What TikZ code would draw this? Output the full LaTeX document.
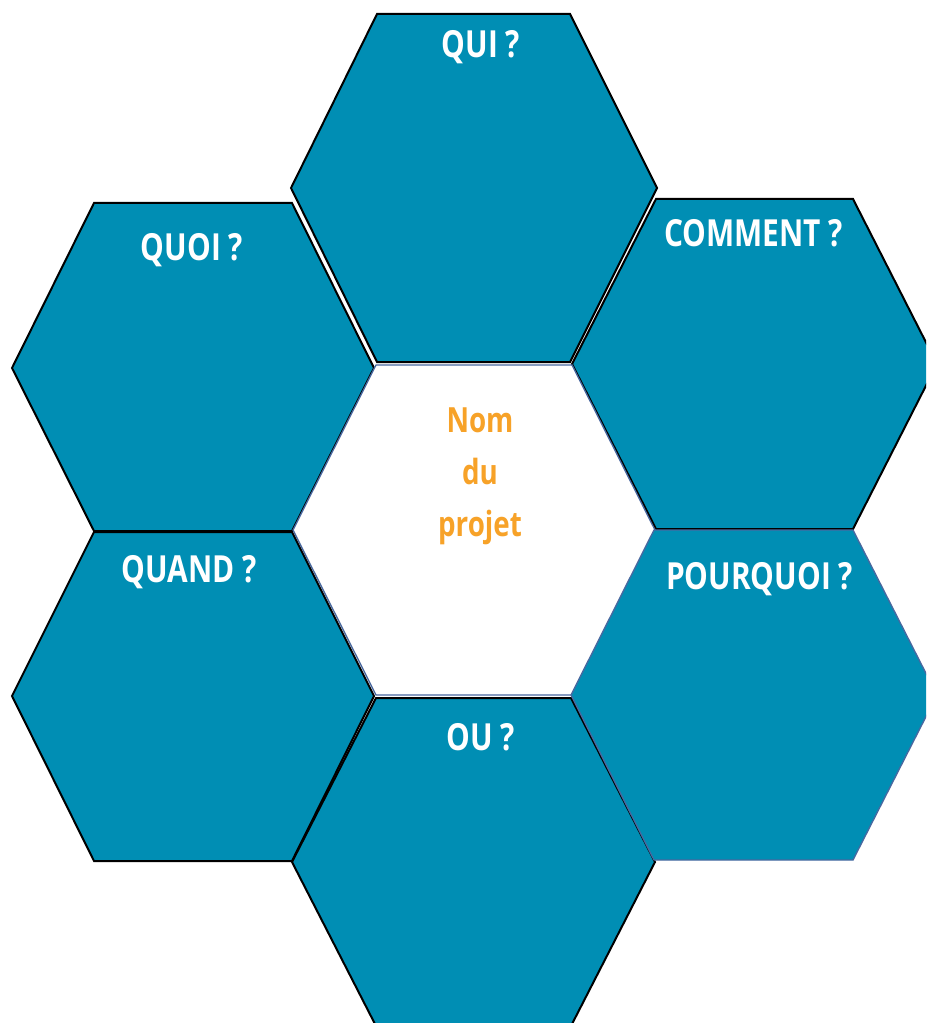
\documentclass[tikz,border=0pt]{standalone}
\usepackage{fontspec}
\setmainfont[FakeStretch=0.8]{Open Sans}
\usepackage{tikz}

\definecolor{hexfill}{RGB}{0,142,180}
\definecolor{hexedge}{RGB}{72,104,160}
\definecolor{projorange}{RGB}{247,162,40}

\begin{document}
\begin{tikzpicture}[x=0.75pt,y=0.75pt,yscale=-1,xscale=1,
  hexa/.style={fill=hexfill,draw=black,line width=1.5,line join=miter},
  hexb/.style={fill=hexfill,draw=hexedge,line width=1,line join=miter},
  hexmid/.style={fill=white,draw=hexedge,line width=1,line join=miter},
  qlabel/.style={anchor=base,inner sep=0.75pt,text=white,font=\fontsize{28}{30}\selectfont\bfseries},
  plabel/.style={anchor=base,inner sep=0.75pt,text=projorange,align=center,font=\fontsize{26}{39}\selectfont\bfseries}]
\useasboundingbox (0,0) rectangle (926,1023);
\clip (0,0) rectangle (926,1023);

%Shape: Hexagon [QUOI]
\draw [hexa] (12,368) -- (94,203) -- (292,203) -- (374,368) -- (292,531) -- (94,531) -- cycle ;
%Shape: Hexagon [QUI]
\draw [hexa] (291,188) -- (377,14) -- (570,14) -- (657,188) -- (570,362) -- (377,362) -- cycle ;
%Shape: Hexagon [COMMENT]
\draw [hexa] (572,364) -- (656,199) -- (853,199) -- (937,364) -- (853,529) -- (656,529) -- cycle ;
%Shape: Hexagon [centre]
\draw [hexmid] (293,530) -- (376,365) -- (572,365) -- (655,530) -- (572,695) -- (376,695) -- cycle ;
%Shape: Hexagon [QUAND]
\draw [hexa] (12,696) -- (94,532) -- (292,532) -- (374,696) -- (292,861) -- (94,861) -- cycle ;
%Shape: Hexagon [OU]
\draw [hexa] (292,862) -- (376,698) -- (571,698) -- (655,862) -- (571,1026) -- (376,1026) -- cycle ;
%Shape: Hexagon [POURQUOI]
\draw [hexb] (571,695) -- (654,530) -- (853,530) -- (937,695) -- (853,860) -- (654,860) -- cycle ;

% Text Node
\draw (481,58) node [qlabel] (qui) {QUI ?};
% Text Node
\draw (753.5,247) node [qlabel] (comment) {COMMENT ?};
% Text Node
\draw (192,261) node [qlabel] (quoi) {QUOI ?};
% Text Node
\draw (189,582) node [qlabel] (quand) {QUAND ?};
% Text Node
\draw (759.5,589) node [qlabel] (pourquoi) {POURQUOI ?};
% Text Node
\draw (481,750) node [qlabel] (ou) {OU ?};
% Text Node
\draw (480,536) node [plabel] (projet) {Nom\\du\\projet};

\end{tikzpicture}
\end{document}
